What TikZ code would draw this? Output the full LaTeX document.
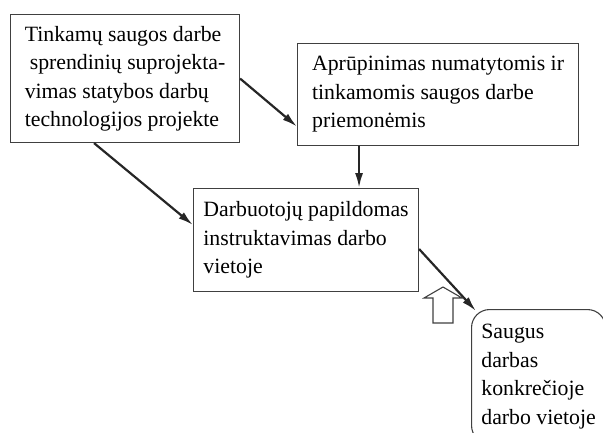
\documentclass[tikz,border=0pt]{standalone}
\usepackage{fontspec}
\setmainfont{Liberation Serif}
\usetikzlibrary{arrows.meta}
\begin{document}
\begin{tikzpicture}[
    x=1pt, y=-1pt,
    box/.style={rectangle, draw=black!75, line width=1.1pt, anchor=north west, align=left, inner sep=0pt, font=\fontsize{21.8}{28.5}\selectfont},
    arrow/.style={-{Latex[length=15pt, width=8pt]}, line width=2.2pt, black!85}
]
\useasboundingbox (0,0) rectangle (603,432);

% Boxes
\node[box, minimum width=229pt, minimum height=128pt] (proj) at (10,14)
    {Tinkamų saugos darbe\\ \hspace*{5pt}sprendinių suprojekta-\\vimas statybos darbų\\technologijos projekte};
\node[box, minimum width=281pt, minimum height=102pt] (priem) at (297,43)
    {Aprūpinimas numatytomis ir\\tinkamomis saugos darbe\\priemonėmis};
\node[box, minimum width=225pt, minimum height=103pt] (instr) at (193,188)
    {Darbuotojų papildomas\\instruktavimas darbo\\vietoje};
\node[box, rounded corners=18pt, minimum width=134pt, minimum height=134pt] (saug) at (471,309)
    {Saugus\\darbas\\konkrečioje\\darbo vietoje};

% Arrows
\draw[arrow] (proj.east) -- ([yshift=-32pt]priem.west);
\draw[arrow] ([xshift=-31pt]proj.south) -- ([yshift=15pt]instr.west);
\draw[arrow] ([xshift=-79pt]priem.south) -- ([xshift=-79pt]priem.south |- instr.north);
\draw[arrow] ([yshift=-9pt]instr.east) -- ([xshift=5pt,yshift=-2pt]saug.north west);

% Hollow arrow
\coordinate (tip) at (443,287);
\draw[black!75, line width=1.1pt, fill=white]
    (tip) -- ++(19,11) -- ++(-9,0) -- ++(0,25) -- ++(-20,0) -- ++(0,-25) -- ++(-9,0) -- cycle;
\end{tikzpicture}
\end{document}
